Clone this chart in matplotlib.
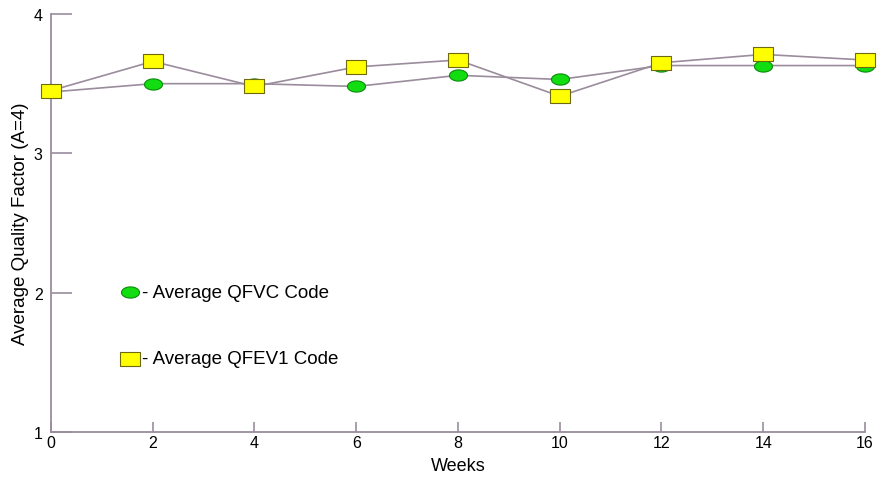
import matplotlib.pyplot as plt
import numpy as np
from matplotlib.path import Path

plt.rcParams['font.family'] = ['Liberation Sans', 'DejaVu Sans']

weeks = [0, 2, 4, 6, 8, 10, 12, 14, 16]
qfvc = [3.44, 3.50, 3.50, 3.48, 3.56, 3.53, 3.63, 3.63, 3.63]
qfev1 = [3.45, 3.66, 3.48, 3.62, 3.67, 3.41, 3.65, 3.71, 3.67]
xticks = [0, 2, 4, 6, 8, 10, 12, 14, 16]
yticks = [1, 2, 3, 4]

line_col = '#9a8c9c'

# wide ellipse and flat rectangle markers
t = np.linspace(0, 2 * np.pi, 40)
ellipse = Path(np.column_stack([np.cos(t), 0.62 * np.sin(t)]), closed=True)
rect = Path([(-1, -0.68), (1, -0.68), (1, 0.68), (-1, 0.68), (-1, -0.68)], closed=True)

fig = plt.figure(figsize=(8.89, 4.81), dpi=100)
ax = fig.add_axes([51 / 889, 1 - 433 / 481, 814 / 889, 418 / 481])

ax.plot(weeks, qfvc, color=line_col, lw=1.2, marker=ellipse, ms=13,
        mfc='#11dd11', mec='#0a8a0a', mew=0.8, zorder=3, clip_on=False)
ax.plot(weeks, qfev1, color=line_col, lw=1.2, marker=rect, ms=14,
        mfc='#ffff00', mec='#6e6a10', mew=0.8, zorder=4, clip_on=False)

ax.set_xlim(0, 16)
ax.set_ylim(1, 4)
ax.set_xticks(xticks)
ax.set_yticks(yticks)

for s in ['top', 'right']:
    ax.spines[s].set_visible(False)
for s in ['left', 'bottom']:
    ax.spines[s].set_color(line_col)
    ax.spines[s].set_linewidth(1.3)

ax.tick_params(axis='x', direction='in', length=7, width=1.2, color=line_col,
               labelsize=11.5, pad=2)
ax.tick_params(axis='y', direction='in', length=15, width=1.2, color=line_col,
               labelsize=11.5, pad=6)

ax.set_xlabel('Weeks', fontsize=13, labelpad=5)
ax.set_ylabel('Average Quality Factor (A=4)', fontsize=13.5, labelpad=3)

# hand-made legend inside the axes
ax.plot([0.097], [0.334], transform=ax.transAxes, marker=ellipse, ms=13,
        mfc='#11dd11', mec='#0a8a0a', mew=0.8, clip_on=False)
ax.text(0.112, 0.334, '- Average QFVC Code', transform=ax.transAxes,
        fontsize=13.5, va='center', ha='left')
ax.plot([0.097], [0.175], transform=ax.transAxes, marker=rect, ms=14,
        mfc='#ffff00', mec='#6e6a10', mew=0.8, clip_on=False)
ax.text(0.112, 0.175, '- Average QFEV1 Code', transform=ax.transAxes,
        fontsize=13.5, va='center', ha='left')

fig.savefig('out.png', dpi=100)
